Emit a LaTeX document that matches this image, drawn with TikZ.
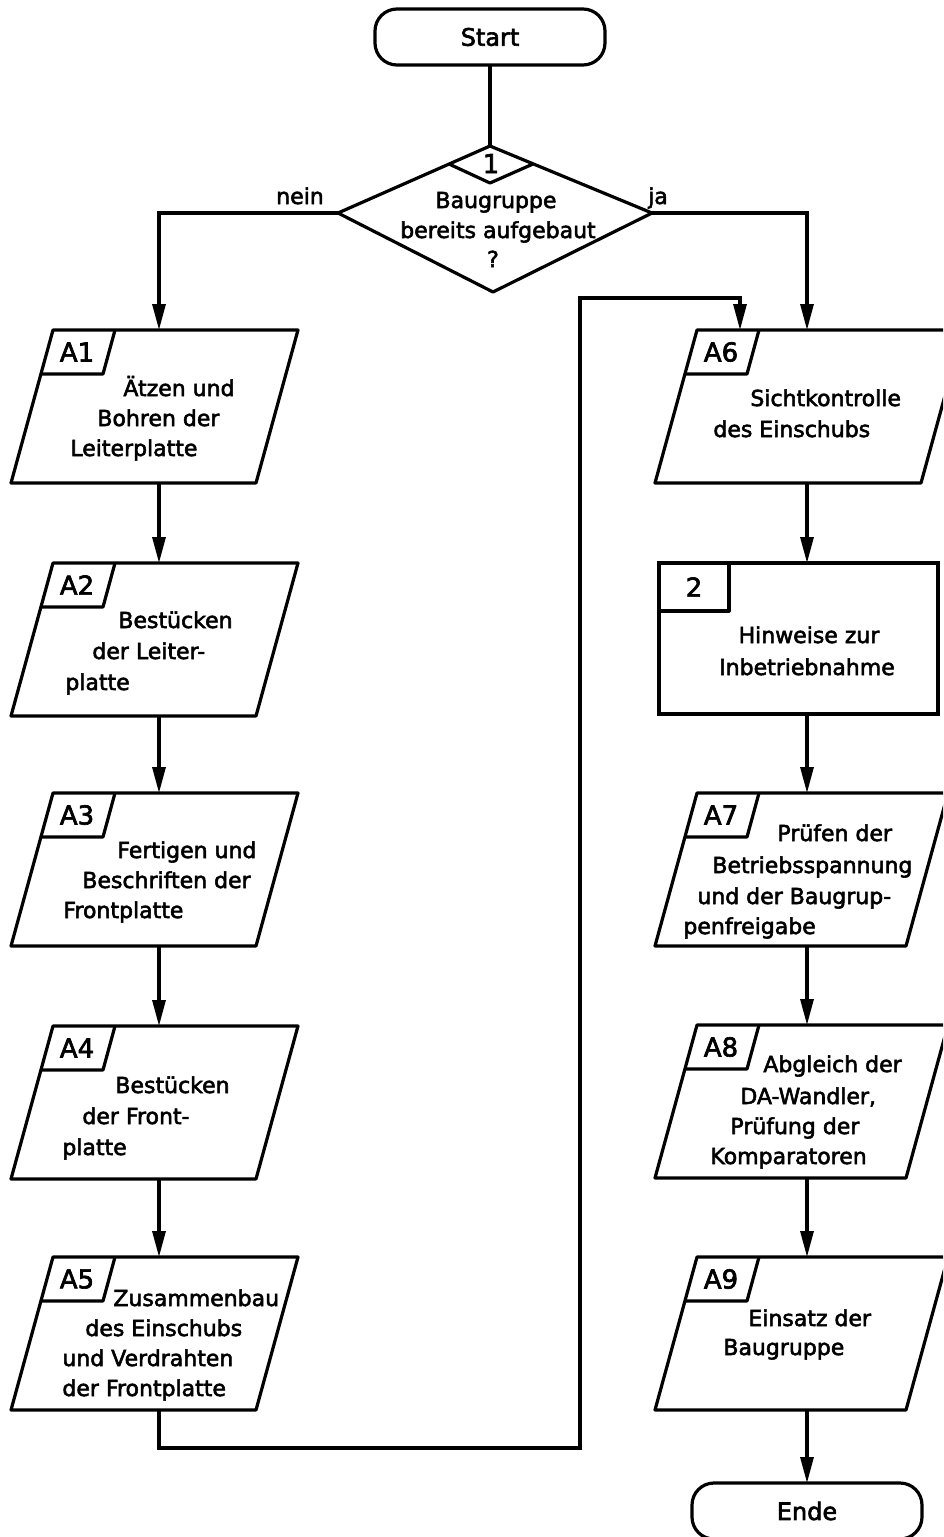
\documentclass[tikz,border=0pt]{standalone}
\usepackage{fontspec}
\setmainfont{DejaVu Sans}
\newfontfamily\dinf{DejaVu Sans}[FakeBold=2.5]
\usetikzlibrary{arrows.meta}
\tikzset{
  shp/.style={line width=1.6pt, line join=round},
  conn/.style={line width=1.6pt},
  arr/.style={conn, -{Triangle[length=13pt,width=6.5pt]}},
  txt/.style={font=\dinf\fontsize{11}{13}\selectfont, inner sep=0pt, anchor=base west},
  ctxt/.style={font=\dinf\fontsize{11}{13}\selectfont, inner sep=0pt, anchor=base},
  lbl/.style={font=\dinf\fontsize{13}{15}\selectfont, inner sep=0pt},
  anc/.style={minimum width=0pt, minimum height=76.5pt, inner sep=0pt, outer sep=0pt},
  term/.style={draw, line width=1.6pt, rounded corners=11pt, minimum width=115pt, minimum height=28pt, inner sep=0pt, outer sep=0pt, font=\dinf\fontsize{12}{14}\selectfont},
}
% #1 name, #2 top-left x, #3 top y, #4 edge width, #5 connector x, #6 label
\newcommand\pbox[6]{%
  \draw[shp] (#2,#3) -- ++(#4,0) -- ++(-42,153) -- ++(-#4,0) -- cycle;
  \draw[shp] (#2,#3) ++(62,0) -- ++(-12,44) -- ++(-62,0);
  \node[lbl] (#1l) at (#2+24,#3+22) {#6};
  \node[anc] (#1) at (#5,#3+76.5) {};
}
\newcommand\tline[4]{\node[txt] (#1) at (#2,#3) {#4};}
\begin{document}
\begin{tikzpicture}[x=0.5pt,y=-0.5pt]
\clip (0,0) rectangle (943,1537);

% terminals
\node[term] (Start) at (490,37) {Start};
\node[term] (Ende) at (807,1511) {Ende};

% decision
\coordinate (decT) at (490,146);
\coordinate (decL) at (338,213);
\coordinate (decR) at (652,213);
\coordinate (decB) at (493,292);
\coordinate (smL) at (449,164);
\coordinate (smB) at (490,183);
\coordinate (smR) at (533,164);
\draw[shp] (decT) -- (decR) -- (decB) -- (decL) -- cycle;
\draw[shp] (smL) -- (smB) -- (smR);
\node[lbl, anchor=base] (n1) at (491,173) {1};
\node[ctxt] (d1) at (496,208) {Baugruppe};
\node[ctxt] (d2) at (498,238) {bereits aufgebaut};
\node[ctxt] (d3) at (493,267) {?};
\node[ctxt] (nein) at (300,204) {nein};
\node[ctxt] (ja) at (658,204) {ja};

% left column
\pbox{A1}{53}{330}{245}{159}{A1}
\pbox{A2}{53}{563}{245}{159}{A2}
\pbox{A3}{53}{793}{245}{159}{A3}
\pbox{A4}{53}{1026}{245}{159}{A4}
\pbox{A5}{53}{1257}{245}{159}{A5}

% right column
\pbox{A6}{697}{330}{266}{807}{A6}
\node[draw, line width=1.6pt, minimum width=139.5pt, minimum height=75.5pt, inner sep=0pt, outer sep=0pt] (B2) at (798.5,638.5) {};
\draw[shp] (659,611) -| (729,563);
\node[lbl] (B2l) at (694,587) {2};
\pbox{A7}{697}{793}{251}{807}{A7}
\pbox{A8}{697}{1025}{251}{807}{A8}
\pbox{A9}{697}{1257}{251}{807}{A9}

% texts
\tline{t1a}{123}{396}{Ätzen und}
\tline{t1b}{97}{426}{Bohren der}
\tline{t1c}{70}{456}{Leiterplatte}

\tline{t2a}{118}{628}{Bestücken}
\tline{t2b}{92}{659}{der Leiter-}
\tline{t2c}{65}{690}{platte}

\tline{t3a}{117}{858}{Fertigen und}
\tline{t3b}{82}{888}{Beschriften der}
\tline{t3c}{63}{918}{Frontplatte}

\tline{t4a}{115}{1093}{Bestücken}
\tline{t4b}{82}{1124}{der Front-}
\tline{t4c}{62}{1155}{platte}

\tline{t5a}{113}{1306}{Zusammenbau}
\tline{t5b}{85}{1336}{des Einschubs}
\tline{t5c}{62}{1366}{und Verdrahten}
\tline{t5d}{62}{1396}{der Frontplatte}

\tline{t6a}{750}{406}{Sichtkontrolle}
\tline{t6b}{713}{437}{des Einschubs}

\node[ctxt] (tb2a) at (809,643) {Hinweise zur};
\node[ctxt] (tb2b) at (807,675) {Inbetriebnahme};

\tline{t7a}{777}{841}{Prüfen der}
\tline{t7b}{712}{873}{Betriebsspannung}
\tline{t7c}{697}{904}{und der Baugrup-}
\tline{t7d}{683}{934}{penfreigabe}

\tline{t8a}{763}{1072}{Abgleich der}
\tline{t8b}{740}{1104}{DA-Wandler,}
\tline{t8c}{730}{1134}{Prüfung der}
\tline{t8d}{710}{1164}{Komparatoren}

\tline{t9a}{748}{1326}{Einsatz der}
\tline{t9b}{723}{1355}{Baugruppe}

% connectors
\draw[conn] (Start.south) -- (decT);
\draw[arr] (decL) -| (A1.north);
\draw[arr] (decR) -| (A6.north);
\draw[arr] (A1.south) -- (A2.north);
\draw[arr] (A2.south) -- (A3.north);
\draw[arr] (A3.south) -- (A4.north);
\draw[arr] (A4.south) -- (A5.north);
\coordinate (rb) at (580,1448);
\coordinate (rt) at (580,298);
\coordinate (A6in) at (740,330);
\draw[arr] (A5.south) |- (rb) -- (rt) -| (A6in);
\draw[arr] (A6.south) -- (A6.south |- B2.north);
\draw[arr] (A6.south |- B2.south) -- (A7.north);
\draw[arr] (A7.south) -- (A8.north);
\draw[arr] (A8.south) -- (A9.north);
\draw[arr] (A9.south) -- (Ende.north);
\end{tikzpicture}
\end{document}
